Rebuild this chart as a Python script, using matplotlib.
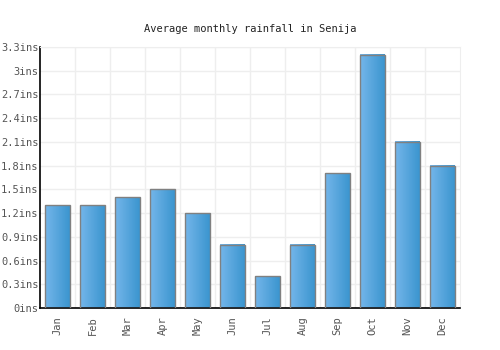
import numpy as np
import matplotlib.pyplot as plt
from matplotlib.patches import Rectangle
from matplotlib.colors import LinearSegmentedColormap

months = ['Jan', 'Feb', 'Mar', 'Apr', 'May', 'Jun', 'Jul', 'Aug', 'Sep', 'Oct', 'Nov', 'Dec']
rainfall = [1.3, 1.3, 1.4, 1.5, 1.2, 0.8, 0.4, 0.8, 1.7, 3.2, 2.1, 1.8]
yticks = [0, 0.3, 0.6, 0.9, 1.2, 1.5, 1.8, 2.1, 2.4, 2.7, 3.0, 3.3]
ytick_labels = ['0ins', '0.3ins', '0.6ins', '0.9ins', '1.2ins', '1.5ins', '1.8ins',
                '2.1ins', '2.4ins', '2.7ins', '3ins', '3.3ins']

plt.rcParams['font.family'] = 'DejaVu Sans Mono'

fig = plt.figure(figsize=(5, 3.5), dpi=100)
ax = fig.add_axes([0.08, 0.12, 0.84, 0.746])

x = np.arange(len(months))
width = 0.69
grad = np.linspace(0, 1, 64).reshape(1, -1)
cmap = LinearSegmentedColormap.from_list('bar', ['#74b6ea', '#3b95cf'])

# gradient-filled bars with grey outline
for xi, v in zip(x, rainfall):
    ax.imshow(grad, cmap=cmap, aspect='auto', extent=(xi - width / 2, xi + width / 2, 0, v),
              zorder=2)
    ax.add_patch(Rectangle((xi - width / 2, 0), width, v, fill=False,
                           edgecolor='#808080', linewidth=1, zorder=3))

ax.set_xlim(-0.5, len(months) - 0.5)
ax.set_ylim(0, 3.3)
ax.set_yticks(yticks)
ax.set_yticklabels(ytick_labels)
ax.set_xticks(x)
ax.set_xticklabels(months, rotation=90)
ax.set_xticks(np.arange(0.5, len(months) - 0.5, 1), minor=True)

ax.grid(True, axis='y', color='#eeeeee', linewidth=1, zorder=0)
ax.grid(True, axis='x', which='minor', color='#eeeeee', linewidth=1, zorder=0)
ax.set_axisbelow(True)

ax.tick_params(axis='both', which='both', length=0, labelsize=7.5, labelcolor='#555555')
ax.tick_params(axis='x', pad=6)
ax.tick_params(axis='y', pad=1)
for s in ['top', 'right']:
    ax.spines[s].set_color('#eeeeee')
for s in ['left', 'bottom']:
    ax.spines[s].set_color('black')
    ax.spines[s].set_linewidth(1.2)

fig.suptitle('Average monthly rainfall in Senija', y=0.93, fontsize=7.5, color='#222222')

fig.savefig('out.png', dpi=100)
